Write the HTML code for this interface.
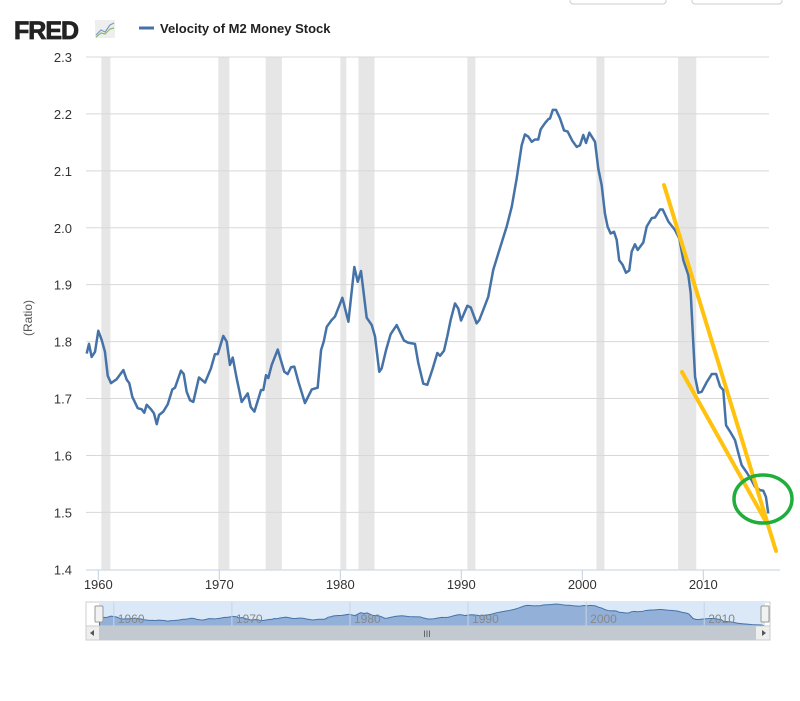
<!DOCTYPE html>
<html><head><meta charset="utf-8"><style>
body{margin:0;background:#fff;font-family:"Liberation Sans",sans-serif;}
svg{display:block}
</style></head><body>
<svg id="chart" width="800" height="701" viewBox="0 0 800 701" xmlns="http://www.w3.org/2000/svg">
<rect x="570" y="-6" width="96" height="10" rx="3" fill="#fff" stroke="#ccc"/>
<rect x="692" y="-6" width="90" height="10" rx="3" fill="#fff" stroke="#ccc"/>
<g>
<text x="14" y="39" font-size="25" font-weight="bold" fill="#222" stroke="#222" stroke-width="0.8" letter-spacing="-1">FRED</text>
<rect x="95" y="20" width="20" height="18" fill="#eee"/>
<polyline points="96,35 101,30 105,32 110,25 114,23" fill="none" stroke="#7a9cc4" stroke-width="1.2"/>
<polyline points="96,37 101,33 105,34 110,29 114,28" fill="none" stroke="#8cb86a" stroke-width="1.2"/>
</g>
<g>
<line x1="139" y1="28" x2="154" y2="28" stroke="#4572a7" stroke-width="3"/>
<text x="160" y="33" font-size="13" font-weight="bold" fill="#222">Velocity of M2 Money Stock</text>
</g>
<text transform="translate(32,318) rotate(-90)" text-anchor="middle" font-size="12" fill="#555">(Ratio)</text>
<g id="recessions"></g>
<g id="grid"></g>
<g id="xaxis"></g>
<g id="series"></g>
<g id="nav"></g>
<g>
<line x1="664" y1="185" x2="776" y2="551" stroke="#ffc20e" stroke-width="4" stroke-linecap="round"/>
<line x1="682" y1="372" x2="765" y2="520" stroke="#ffc20e" stroke-width="4" stroke-linecap="round"/>
<ellipse cx="763" cy="499" rx="29" ry="24" fill="none" stroke="#1fae3c" stroke-width="3.5"/>
</g>
</svg>
<script>
const years=[1959.04,1959.23,1959.45,1959.73,1960.0,1960.28,1960.55,1960.78,1961.05,1961.52,1962.07,1962.35,1962.56,1962.81,1963.26,1963.59,1963.8,1964.0,1964.36,1964.6,1964.83,1965.02,1965.37,1965.74,1966.12,1966.34,1966.83,1967.06,1967.3,1967.58,1967.85,1968.32,1968.82,1969.31,1969.64,1969.87,1970.33,1970.61,1970.88,1971.11,1971.44,1971.85,1972.35,1972.6,1972.9,1973.22,1973.45,1973.64,1973.86,1974.05,1974.33,1974.83,1975.37,1975.65,1975.93,1976.2,1976.53,1977.08,1977.64,1978.13,1978.41,1978.63,1978.88,1979.29,1979.56,1980.17,1980.67,1981.16,1981.44,1981.71,1982.18,1982.6,1982.87,1983.22,1983.42,1983.78,1984.16,1984.66,1985.26,1985.62,1986.17,1986.45,1986.86,1987.19,1987.64,1988.02,1988.24,1988.57,1988.84,1989.12,1989.48,1989.75,1989.98,1990.5,1990.78,1991.27,1991.49,1991.82,1992.23,1992.64,1993.06,1993.75,1994.17,1994.58,1994.99,1995.26,1995.54,1995.82,1996.09,1996.36,1996.56,1996.92,1997.2,1997.33,1997.56,1997.83,1998.16,1998.49,1998.79,1999.17,1999.54,1999.81,2000.08,2000.31,2000.58,2001.05,2001.32,2001.6,2001.87,2002.09,2002.34,2002.62,2002.84,2003.05,2003.33,2003.61,2003.88,2004.08,2004.35,2004.58,2005.04,2005.32,2005.74,2006.01,2006.42,2006.65,2007.11,2007.66,2008.02,2008.35,2008.76,2008.96,2009.13,2009.32,2009.59,2009.87,2010.29,2010.7,2011.06,2011.39,2011.65,2011.88,2012.21,2012.62,2012.9,2013.17,2013.59,2014.0,2014.27,2014.69,2014.96,2015.18,2015.37];
const values=[1.779,1.796,1.773,1.782,1.819,1.803,1.782,1.740,1.727,1.734,1.750,1.733,1.727,1.703,1.683,1.681,1.675,1.689,1.681,1.674,1.655,1.671,1.677,1.690,1.716,1.719,1.749,1.743,1.712,1.697,1.694,1.737,1.728,1.753,1.778,1.778,1.810,1.800,1.759,1.772,1.735,1.694,1.709,1.685,1.677,1.699,1.715,1.715,1.741,1.736,1.759,1.786,1.747,1.743,1.755,1.756,1.730,1.692,1.716,1.719,1.785,1.800,1.826,1.838,1.844,1.877,1.835,1.931,1.905,1.924,1.842,1.829,1.809,1.747,1.753,1.785,1.813,1.829,1.802,1.798,1.796,1.762,1.726,1.724,1.753,1.780,1.775,1.784,1.809,1.838,1.867,1.858,1.837,1.863,1.860,1.832,1.838,1.856,1.879,1.926,1.955,2.002,2.037,2.087,2.145,2.164,2.160,2.151,2.155,2.155,2.173,2.184,2.191,2.192,2.207,2.207,2.192,2.171,2.169,2.153,2.142,2.145,2.163,2.149,2.167,2.151,2.104,2.075,2.025,2.002,1.990,1.993,1.979,1.943,1.935,1.921,1.925,1.958,1.971,1.961,1.974,2.002,2.017,2.018,2.032,2.032,2.011,1.996,1.981,1.943,1.917,1.885,1.815,1.738,1.710,1.712,1.729,1.743,1.743,1.721,1.715,1.653,1.642,1.627,1.604,1.583,1.570,1.556,1.545,1.539,1.538,1.527,1.498];
const yTicks=[1.4,1.5,1.6,1.7,1.8,1.9,2.0,2.1,2.2,2.3];
const xTicks=[1960,1970,1980,1990,2000,2010];
const recStart=[1960.25,1969.92,1973.83,1980.0,1981.5,1990.5,2001.17,2007.92];
const recEnd=[1961.0,1970.83,1975.17,1980.5,1982.83,1991.17,2001.83,2009.42];

const NS='http://www.w3.org/2000/svg';
const X=y=>98.3+12.1*(y-1960);
const Y=v=>57+(2.3-v)*569.2;
function mk(tag,attrs,parent){const e=document.createElementNS(NS,tag);for(const k in attrs)e.setAttribute(k,attrs[k]);parent.appendChild(e);return e;}

const rg=document.getElementById('recessions');
recStart.forEach((s,i)=>{const r=mk('rect',{x:X(s),y:57,width:X(recEnd[i])-X(s),height:Y(1.4)-57,fill:'#e6e6e6'},rg);

});

const gg=document.getElementById('grid');
yTicks.forEach(v=>{
 if(v>1.4){const l=mk('line',{x1:86,x2:769,y1:Y(v),y2:Y(v),stroke:'#d8d8d8','stroke-width':1},gg);
 
 }
 const t=mk('text',{x:72,y:Y(v)+5,'text-anchor':'end','font-size':13,fill:'#333'},gg);t.textContent=v.toFixed(1);
 
 
});

const xg=document.getElementById('xaxis');
const ax=mk('line',{x1:86,x2:780,y1:570,y2:570,stroke:'#c0d0e0','stroke-width':1},xg);


xTicks.forEach(yr=>{
 const tk=mk('line',{x1:X(yr),x2:X(yr),y1:570,y2:580,stroke:'#c0d0e0'},xg);
 
 
 const t=mk('text',{x:X(yr),y:589,'text-anchor':'middle','font-size':13,fill:'#333'},xg);t.textContent=yr;
 
 
});

const sg=document.getElementById('series');
const pl=mk('polyline',{points:years.map((y,i)=>X(y)+','+Y(values[i])).join(' '),fill:'none',stroke:'#4572a7','stroke-width':2.5,'stroke-linejoin':'round'},sg);



const ng=document.getElementById('nav');
const NX=y=>99+(765-99)*(y-1959)/(2015.4-1959);
const NY=v=>626-(v-1.5)/(2.21-1.5)*22;
const nb=mk('rect',{x:86,y:602,width:684,height:24,fill:'#fff',stroke:'#ccc'},ng);


const nsel=mk('rect',{x:99,y:602,width:666,height:24,fill:'#dbe8f7'},ng);


const pts=years.map((y,i)=>NX(y)+','+NY(values[i]));
const na=mk('polygon',{points:NX(years[0])+',626 '+pts.join(' ')+' '+NX(years[years.length-1])+',626',fill:'#93b1d8',stroke:'#4572a7','stroke-width':1},ng);


xTicks.forEach(yr=>{
 const gl=mk('line',{x1:NX(yr)+3,x2:NX(yr)+3,y1:602,y2:626,stroke:'#c8d4e4'},ng);
 
 
 const t=mk('text',{x:NX(yr)+7,y:623,'font-size':12,fill:'#888'},ng);t.textContent=yr;
 
 
});
[99,765].forEach((hx,i)=>{const h=mk('rect',{x:hx-4,y:606,width:8,height:16,fill:'#f2f2f2',stroke:'#999',rx:1},ng);
 
 });
const sb=mk('rect',{x:86,y:626,width:684,height:14,fill:'#eee',stroke:'#ccc'},ng);


const th=mk('rect',{x:99,y:626,width:657,height:14,fill:'#c3c9d0'},ng);


const t3=mk('text',{x:427,y:637,'font-size':9,fill:'#555','text-anchor':'middle'},ng);t3.textContent='III';


const la=mk('path',{d:'M94,630 L90,633 L94,636 Z',fill:'#555'},ng);


const ra=mk('path',{d:'M762,630 L766,633 L762,636 Z',fill:'#555'},ng);


</script>
</body></html>
